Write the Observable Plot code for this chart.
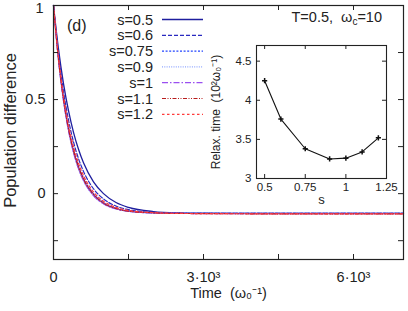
<!DOCTYPE html>
<html><head><meta charset="utf-8">
<script src="https://cdn.jsdelivr.net/npm/d3@7"></script>
<script src="https://cdn.jsdelivr.net/npm/@observablehq/plot@0.6"></script>
<style>
html,body{margin:0;padding:0;background:#fff;}
#chart{position:relative;width:408px;height:311px;overflow:hidden;font-family:"Liberation Sans",Arial,sans-serif;}
#chart svg{position:absolute;}
</style></head><body><div id="chart"></div>
<script>
// ---- data ----
const times = [0,100,200,300,400,500,600,800,1000,1250,1500,2000,2500,3000,4000,5500,7000];
const s05  = [1,0.768,0.585,0.441,0.326,0.236,0.164,0.063,0.000,-0.047,-0.073,-0.095,-0.102,-0.104,-0.105,-0.105,-0.105];
const s06  = [1,0.741,0.543,0.391,0.275,0.186,0.118,0.026,-0.028,-0.066,-0.085,-0.100,-0.104,-0.105,-0.105,-0.105,-0.105];
const s075 = [1,0.717,0.507,0.350,0.233,0.147,0.082,-0.001,-0.048,-0.078,-0.092,-0.102,-0.104,-0.105,-0.105,-0.105,-0.105];
const s09  = [1,0.707,0.492,0.334,0.218,0.132,0.069,-0.011,-0.054,-0.081,-0.094,-0.103,-0.105,-0.105,-0.106,-0.106,-0.106];
const s10  = [1,0.708,0.493,0.335,0.219,0.133,0.070,-0.010,-0.054,-0.081,-0.094,-0.103,-0.105,-0.106,-0.106,-0.106,-0.106];
const s11  = [1,0.714,0.502,0.345,0.229,0.142,0.078,-0.004,-0.050,-0.079,-0.093,-0.102,-0.105,-0.106,-0.107,-0.107,-0.107];
const s12  = [1,0.727,0.521,0.366,0.250,0.162,0.096,0.009,-0.040,-0.073,-0.089,-0.101,-0.105,-0.106,-0.107,-0.107,-0.107];
const seriesNames = ["s=0.5","s=0.6","s=0.75","s=0.9","s=1","s=1.1","s=1.2"];
const seriesValues = [s05,s06,s075,s09,s10,s11,s12];

const xTickValues = [0,1500,3000,4500,6000];
const xLabelValues = [0,3000,6000];
const xLabelTexts = ["0","3·10³","6·10³"];
const yTickValues = [1,0.75,0.5,0.25,0,-0.25];
const yLabelValues = [0.5,0];
const yLabelTexts = ["0.5","0"];
const yTopValue = [1];
const yTopText = ["1"];

const relaxS = [0.5,0.6,0.75,0.9,1,1.1,1.2];
const relaxTime = [4.25,3.76,3.38,3.25,3.26,3.34,3.52];
const insetXTicks = [0.5,0.75,1,1.25];
const insetXTexts = ["0.5","0.75","1","1.25"];
const insetYTicks = [3,3.5,4,4.5];
const insetYTexts = ["3","3.5","4","4.5"];

// ---- styles ----
const colors = ["#1e1e9e","#2a2ac0","#2244ff","#8fa6ff","#9a4ff0","#b81c1c","#ff3a3a"];
const dashes = [null,"4,2","2,1.6","1,1.3","6,2,1.5,2","4,1.5,1,1.5,1,1.5","2.5,2.5"];
const widths = [1.3,1.2,1.2,1.2,1.2,1.2,1.2];
const FONT = "'Liberation Sans', Arial, Helvetica, sans-serif";
const INK = "#222";

const rows = [];
seriesValues.forEach((vals,i)=>vals.forEach((v,j)=>rows.push({t:times[j], p:v, s:seriesNames[i]})));

const main = Plot.plot({
  width:408, height:311, marginLeft:53, marginRight:5, marginTop:5, marginBottom:52,
  style:{fontFamily:FONT, fontSize:"14.5px", background:"#fff", color:INK},
  x:{domain:[0,7000]}, y:{domain:[-0.35,1]},
  marks:[
    ...seriesNames.map((n,i)=>Plot.line(rows.filter(d=>d.s===n),{x:"t",y:"p",stroke:colors[i],strokeWidth:widths[i],strokeDasharray:dashes[i],curve:"monotone-x"})),
    Plot.frame({stroke:INK, strokeWidth:1.2}),
    Plot.tickX(xTickValues,{x:d=>d, insetTop:249, stroke:INK}),
    Plot.tickX(xTickValues,{x:d=>d, insetBottom:249, stroke:INK}),
    Plot.tickY(yTickValues,{y:d=>d, insetRight:345, stroke:INK}),
    Plot.tickY(yTickValues,{y:d=>d, insetLeft:345, stroke:INK}),
    Plot.axisX(xLabelValues,{tickSize:0, tickPadding:12, label:null, tickFormat:d=>xLabelTexts[xLabelValues.indexOf(d)]}),
    Plot.axisY(yLabelValues,{tickSize:0, tickPadding:8, label:null, tickFormat:d=>yLabelTexts[yLabelValues.indexOf(d)]}),
    Plot.axisY(yTopValue,{tickSize:0, tickPadding:10, dy:3, label:null, tickFormat:d=>yTopText[yTopValue.indexOf(d)]}),
    Plot.text(["Population difference"],{frameAnchor:"left", dx:-43, dy:-2, rotate:-90, textAnchor:"middle", lineAnchor:"middle", fontSize:16.5, fill:INK}),
    Plot.text(["Time\u00a0\u00a0(ω₀⁻¹)"],{frameAnchor:"bottom", dy:34, textAnchor:"middle", lineAnchor:"middle", fontSize:14.5, fill:INK})
  ]
});
document.getElementById("chart").appendChild(main);
main.style.left="0px"; main.style.top="0px";

// legend + annotations
const svg = d3.select(main);
const lg = svg.append("g").attr("font-family",FONT).attr("font-size",14.5).attr("fill",INK);
seriesNames.forEach((n,i)=>{
  const y = 19.5 + i*15.8;
  lg.append("text").attr("x",153).attr("y",y).attr("text-anchor","end").attr("dominant-baseline","central").text(n);
  lg.append("line").attr("x1",162).attr("x2",203).attr("y1",y).attr("y2",y)
    .attr("stroke",colors[i]).attr("stroke-width",widths[i]).attr("stroke-dasharray",dashes[i]);
});
svg.append("text").attr("x",67).attr("y",25).attr("text-anchor","start").attr("dominant-baseline","central")
  .attr("font-family",FONT).attr("font-size",16).attr("fill",INK).text("(d)");
const ann = svg.append("text").attr("x",382).attr("y",22).attr("text-anchor","end")
  .attr("font-family",FONT).attr("font-size",14.5).attr("fill",INK);
ann.append("tspan").text("T=0.5,\u00a0\u00a0ω");
ann.append("tspan").attr("font-size",10).attr("dy",3).text("c");
ann.append("tspan").attr("dy",-3).text("=10");

// inset
const relaxRows = relaxS.map((s,i)=>({s, tau:relaxTime[i]}));
const inset = Plot.plot({
  width:200, height:180, marginLeft:56, marginRight:14, marginTop:10, marginBottom:37,
  style:{fontFamily:FONT, fontSize:"11.5px", background:"transparent", color:INK},
  x:{domain:[0.45,1.25]}, y:{domain:[3,4.7]},
  marks:[
    Plot.frame({stroke:INK, fill:"#fff", strokeWidth:1.1}),
    Plot.tickX(insetXTicks,{x:d=>d, insetTop:129, stroke:INK}),
    Plot.tickX(insetXTicks,{x:d=>d, insetBottom:129, stroke:INK}),
    Plot.tickY(insetYTicks,{y:d=>d, insetRight:126, stroke:INK}),
    Plot.tickY(insetYTicks,{y:d=>d, insetLeft:126, stroke:INK}),
    Plot.line(relaxRows,{x:"s", y:"tau", stroke:"#111", strokeWidth:1.1}),
    Plot.dot(relaxRows,{x:"s", y:"tau", symbol:"plus", r:1.8, stroke:"#111"}),
    Plot.axisX(insetXTicks,{tickSize:0, tickPadding:4, label:null, tickFormat:d=>insetXTexts[insetXTicks.indexOf(d)]}),
    Plot.axisY(insetYTicks,{tickSize:0, tickPadding:5, label:null, tickFormat:d=>insetYTexts[insetYTicks.indexOf(d)]}),
    Plot.text(["Relax. time\u00a0\u00a0(10²ω₀⁻¹)"],{frameAnchor:"left", dx:-40, rotate:-90, textAnchor:"middle", lineAnchor:"middle", fontSize:12, fill:INK}),
    Plot.text(["s"],{frameAnchor:"bottom", dy:21, textAnchor:"middle", lineAnchor:"middle", fontSize:13, fill:INK})
  ]
});
document.getElementById("chart").appendChild(inset);
inset.style.left="200px"; inset.style.top="35px";
</script></body></html>
